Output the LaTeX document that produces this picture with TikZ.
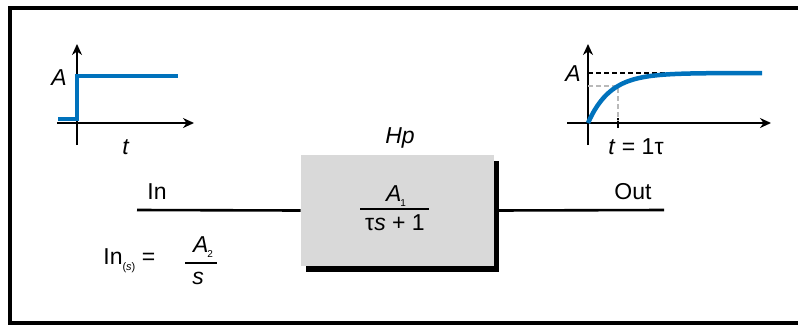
\documentclass[tikz,border=0pt]{standalone}
\usepackage{fontspec}
\setmainfont{Liberation Sans}
\usetikzlibrary{arrows.meta,shadows}

\definecolor{stepblue}{RGB}{0,114,188}
\definecolor{boxgray}{RGB}{217,217,217}
\definecolor{guidegray}{RGB}{185,185,185}

\tikzset{every picture/.style={line width=0.75pt},
  axisarrow/.style={line width=2.6pt,-{Stealth[length=11pt,width=10pt]}},
  resp/.style={color=stepblue,line width=4.5pt},
  lbl/.style={inner sep=0pt,font=\fontsize{23}{27}\selectfont},
  fracbar/.style={line width=2.4pt},
  wire/.style={line width=2.6pt},
  guide/.style={line width=2pt,dash pattern=on 5pt off 3pt},
}

\begin{document}
\begin{tikzpicture}[x=1pt,y=1pt,yscale=-1,xscale=1]
\useasboundingbox (0,0) rectangle (798,325);

%Shape: Frame
\draw [line width=3.2pt] (10,8) rectangle (812,323);

%Shape: Axis 2D (step input)
\draw [axisarrow] (57,123) -- (194,123);
\draw [axisarrow] (77,145) -- (77,44);
%Shape: Step
\draw [resp] (58,119) -- (77,119) -- (77,76) -- (178,76);

%Shape: Axis 2D (response)
\draw [axisarrow] (567,123) -- (771,123);
\draw [axisarrow] (588,145) -- (588,44);
\draw [line width=2.6pt] (618,118) -- (618,128);
\draw [guide] (588,73) -- (688,73);
\draw [guide,guidegray] (588,86) -- (618,86) -- (618,121);
%Shape: Exponential
\draw [resp] plot [domain=0:174,samples=80,smooth] ({588+\x},{123-50*(1-exp(-\x*1.35/30))});

%Shape: Block
\node [fill=boxgray,minimum width=193pt,minimum height=111pt,inner sep=0pt,
  drop shadow={shadow xshift=5pt,shadow yshift=-6pt,fill=black,opacity=1}] (hp) at (397.5,210.5) {};

% Wires
\coordinate (in) at (137,210);
\coordinate (out) at (664,210);
\draw [wire] (in) -- (hp.west);
\draw [wire] (hp.east) -- (out);

% Text Node
\node [lbl] (a1) at (59,78) {\textit{A}};
% Text Node
\node [lbl] (t1) at (126,147) {\textit{t}};
% Text Node
\node [lbl] (a2) at (573,74) {\textit{A}};
% Text Node
\node [lbl] (t2) at (636,147) {\textit{t} = 1τ};
% Text Node
\node [lbl] (hplbl) at (400,138) {\textit{Hp}};
% Text Node
\node [lbl] (inlbl) at (157,192) {In};
% Text Node
\node [lbl] (outlbl) at (633,192) {Out};

% Fraction in block
\node [lbl] (num1) at (396,196) {\textit{A}\kern-1pt\raisebox{-5pt}{\fontsize{10}{10}\selectfont 1}};
\draw [fracbar] (360,209) -- (429,209);
\node [lbl] (den1) at (395,223) {τ\textit{s} + 1};

% Input transform
\node [lbl,anchor=west] (ins) at (103,261) {In\raisebox{-6pt}{\fontsize{11}{11}\selectfont(\textit{s})} =};
\node [lbl] (num2) at (203,247) {\textit{A}\kern-1pt\raisebox{-5pt}{\fontsize{10}{10}\selectfont 2}};
\draw [fracbar] (185,263) -- (217,263);
\node [lbl] (den2) at (198,278) {\textit{s}};

\end{tikzpicture}
\end{document}
